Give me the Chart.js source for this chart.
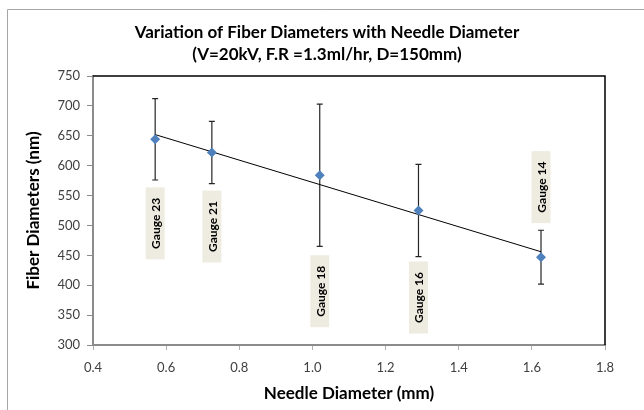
<!DOCTYPE html>
<html>
<head>
<meta charset="utf-8">
<script src="https://cdn.jsdelivr.net/npm/chart.js@4.4.0/dist/chart.umd.min.js"></script>
<style>
  html, body { margin: 0; padding: 0; background: #fff; }
</style>
</head>
<body>
<canvas id="fiberChart" width="644" height="410"></canvas>
<script>
// Data
const needleDiameters = [0.57, 0.725, 1.02, 1.29, 1.625];
const fiberDiameters = [644, 622, 584, 525, 447];
const fiberErrors = [68, 52, 119, 77, 45];
const gaugeNames = ['Gauge 23', 'Gauge 21', 'Gauge 18', 'Gauge 16', 'Gauge 14'];
const trendX = [0.57, 1.625];
const trendY = [652, 456];
const xTicks = [0.4, 0.6, 0.8, 1.0, 1.2, 1.4, 1.6, 1.8];
const yTicks = [300, 350, 400, 450, 500, 550, 600, 650, 700, 750];
const titleLines = ['Variation of Fiber Diameters with Needle Diameter', '(V=20kV, F.R =1.3ml/hr, D=150mm)'];

const FONT = 'Lato, "Open Sans", sans-serif';

// white page + the cut-off outer chart border + title
const frame = {
  id: 'frame',
  beforeDraw(chart) {
    const ctx = chart.ctx;
    ctx.save();
    ctx.fillStyle = '#fff';
    ctx.fillRect(0, 0, chart.width, chart.height);
    ctx.strokeStyle = '#a6a6a6';
    ctx.lineWidth = 1;
    ctx.beginPath();
    ctx.moveTo(7.5, chart.height);
    ctx.lineTo(7.5, 9.5);
    ctx.lineTo(chart.width, 9.5);
    ctx.stroke();
    ctx.fillStyle = '#000';
    ctx.font = 'bold 17px ' + FONT;
    ctx.textAlign = 'center';
    ctx.textBaseline = 'middle';
    ctx.fillText(titleLines[0], 327, 33);
    ctx.fillText(titleLines[1], 327, 55);
    ctx.restore();
  },
  afterDraw(chart) {
    // top and right edge of the plot area
    const {left, top, right, bottom} = chart.chartArea;
    const ctx = chart.ctx;
    ctx.save();
    ctx.strokeStyle = '#000';
    ctx.lineWidth = 1.5;
    ctx.beginPath();
    ctx.moveTo(left, top);
    ctx.lineTo(right, top);
    ctx.lineTo(right, bottom);
    ctx.stroke();
    ctx.restore();
  }
};

// vertical error bars
const errorBars = {
  id: 'errorBars',
  beforeDatasetsDraw(chart) {
    const x = chart.scales.x, y = chart.scales.y;
    const ctx = chart.ctx;
    ctx.save();
    ctx.strokeStyle = '#262626';
    ctx.lineWidth = 1.2;
    needleDiameters.forEach((d, i) => {
      const px = x.getPixelForValue(d);
      const hi = y.getPixelForValue(fiberDiameters[i] + fiberErrors[i]);
      const lo = y.getPixelForValue(fiberDiameters[i] - fiberErrors[i]);
      ctx.beginPath();
      ctx.moveTo(px, hi); ctx.lineTo(px, lo);
      ctx.moveTo(px - 3, hi); ctx.lineTo(px + 3, hi);
      ctx.moveTo(px - 3, lo); ctx.lineTo(px + 3, lo);
      ctx.stroke();
    });
    ctx.restore();
  }
};

// rotated "Gauge" labels in beige boxes
const gaugeLabels = {
  id: 'gaugeLabels',
  afterDatasetsDraw(chart) {
    const offsets = [84, 74, 116, 87, -70];
    const meta = chart.getDatasetMeta(0);
    const ctx = chart.ctx;
    ctx.save();
    ctx.font = 'bold 12px ' + FONT;
    meta.data.forEach((pt, i) => {
      const cx = pt.x, cy = pt.y + offsets[i];
      ctx.fillStyle = '#eeece1';
      ctx.fillRect(cx - 9.5, cy - 36, 19, 72);
      ctx.translate(cx, cy);
      ctx.rotate(-Math.PI / 2);
      ctx.fillStyle = '#000';
      ctx.textAlign = 'center';
      ctx.textBaseline = 'middle';
      ctx.fillText(gaugeNames[i], 0, 1);
      ctx.setTransform(1, 0, 0, 1, 0, 0);
    });
    ctx.restore();
  }
};

const fiberChart = new Chart(
  document.getElementById('fiberChart'),
  {
    type: 'scatter',
    data: {
      datasets: [
        {
          label: 'Fiber diameter',
          data: needleDiameters.map((d, i) => ({x: d, y: fiberDiameters[i]})),
          pointStyle: 'rectRot',
          pointRadius: 5,
          backgroundColor: '#4f81bd',
          borderColor: '#4f81bd',
          borderWidth: 0,
          order: 1
        },
        {
          label: 'Linear trend',
          type: 'line',
          data: trendX.map((d, i) => ({x: d, y: trendY[i]})),
          borderColor: '#000',
          borderWidth: 1,
          pointRadius: 0,
          fill: false,
          order: 2
        }
      ]
    },
    options: {
      responsive: false,
      animation: false,
      layout: {
        padding: {top: 76, right: 39, left: 7, bottom: 0}
      },
      plugins: {
        legend: {display: false},
        tooltip: {enabled: false}
      },
      scales: {
        x: {
          type: 'linear',
          min: 0.4,
          max: 1.8,
          afterBuildTicks: (scale) => { scale.ticks = xTicks.map(v => ({value: v})); },
          afterFit: (scale) => { scale.height = 65; },
          ticks: {
            padding: 10,
            color: '#404040',
            font: {family: FONT, size: 13},
            callback: (v) => Number(v).toFixed(1)
          },
          grid: {drawOnChartArea: false, tickLength: 5, color: '#b0b0b0'},
          border: {color: '#8c8c8c', width: 2},
          title: {
            display: true,
            text: 'Needle Diameter (mm)',
            color: '#000',
            font: {family: FONT, size: 17, weight: 'bold'},
            padding: {top: 0, bottom: 6}
          }
        },
        y: {
          min: 300,
          max: 750,
          afterBuildTicks: (scale) => { scale.ticks = yTicks.map(v => ({value: v})); },
          afterFit: (scale) => { scale.width = 86; },
          ticks: {
            padding: 7,
            color: '#404040',
            font: {family: FONT, size: 13}
          },
          grid: {drawOnChartArea: false, tickLength: 6, color: '#8c8c8c'},
          border: {color: '#8c8c8c', width: 2},
          title: {
            display: true,
            text: 'Fiber Diameters (nm)',
            color: '#000',
            font: {family: FONT, size: 17, weight: 'bold'},
            padding: {top: 16, bottom: 0}
          }
        }
      }
    },
    plugins: [frame, errorBars, gaugeLabels]
  }
);
</script>
</body>
</html>
